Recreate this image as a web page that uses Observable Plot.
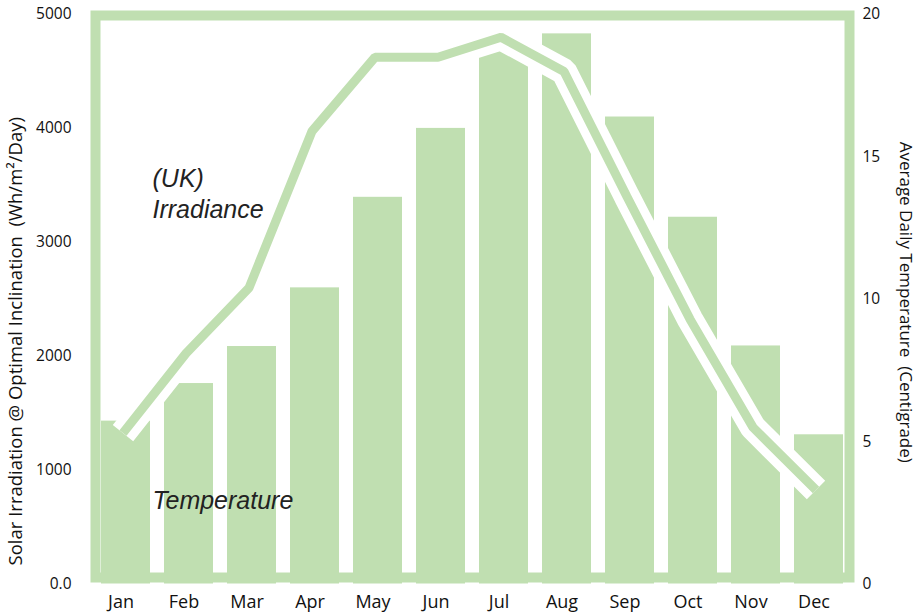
<!DOCTYPE html>
<html>
<head>
<meta charset="utf-8">
<script src="https://cdn.jsdelivr.net/npm/d3@7"></script>
<script src="https://cdn.jsdelivr.net/npm/@observablehq/plot@0.6"></script>
<style>
  html, body { margin: 0; padding: 0; background: #fff; }
  #chart { width: 917px; height: 616px; }
</style>
</head>
<body>
<div id="chart"></div>
<script>
const months = ["Jan","Feb","Mar","Apr","May","Jun","Jul","Aug","Sep","Oct","Nov","Dec"];
const irradiance = [1430, 1760, 2085, 2600, 3395, 4000, 4700, 4830, 4100, 3220, 2090, 1310];
const temperature = [5.3, 8.1, 10.4, 15.9, 18.5, 18.5, 19.2, 18.0, 13.6, 9.3, 5.5, 3.3];
const irrTicks = [0, 1000, 2000, 3000, 4000, 5000];
const tempTicks = [0, 5, 10, 15, 20];
const leftTitle = "Solar Irradiation @ Optimal Inclination  (Wh/m\u00B2/Day)";
const rightTitle = "Average Daily Temperature  (Centigrade)";
const notes = ["(UK)\nIrradiance", "Temperature"];

const tempMax = 20, irrMax = 5000, k = irrMax / tempMax;
const data = months.map((m, i) => ({month: m, irr: irradiance[i], temp: temperature[i]}));
const green = "#c0dfb1";
const font = "Open Sans";

const chart = Plot.plot({
  width: 917,
  height: 616,
  marginLeft: 90,
  marginRight: 63,
  marginTop: 14,
  marginBottom: 32.5,
  style: {fontFamily: font, background: "#fff", color: "#111"},
  x: {type: "band", domain: months, paddingInner: 0.22, paddingOuter: 0.11, axis: null},
  y: {domain: [0, irrMax], axis: null},
  marks: [
    Plot.barY(data, {x: "month", y: "irr", fill: green}),
    Plot.frame({stroke: green, strokeWidth: 10, insetTop: 1, insetBottom: 6.5, insetLeft: 5, insetRight: 5}),
    Plot.line(data, {x: "month", y: d => d.temp * k, stroke: "#fff", strokeWidth: 26, strokeLinejoin: "miter", strokeLinecap: "butt", dx: -3}),
    Plot.line(data, {x: "month", y: d => d.temp * k, stroke: green, strokeWidth: 9, strokeLinejoin: "miter", strokeLinecap: "butt", dx: -3}),
    Plot.axisX({tickSize: 0, tickPadding: 11.5, fontSize: 18, dx: -5, label: null}),
    Plot.axisY({anchor: "left", ticks: irrTicks, tickSize: 0, tickPadding: 19, fontSize: 15.5, label: null,
      tickFormat: d => d === 0 ? "0.0" : String(d)}),
    Plot.axisY({anchor: "right", ticks: tempTicks.map(t => t * k), tickSize: 0, tickPadding: 8, fontSize: 15.5, label: null,
      tickFormat: d => String(d / k)}),
    Plot.text([leftTitle], {frameAnchor: "left", textAnchor: "middle", rotate: -90, dx: -74, dy: 42, fontSize: 18.5, fill: "#111"}),
    Plot.text([rightTitle], {frameAnchor: "right", textAnchor: "middle", rotate: 90, dx: 51, dy: 3, fontSize: 17, fill: "#111"}),
    Plot.text([notes[0]], {frameAnchor: "top-left", dx: 62, dy: 203, textAnchor: "start", lineAnchor: "bottom", lineHeight: 1.24,
      fontSize: 25, fontStyle: "italic", fontFamily: "Liberation Sans", fill: "#222"}),
    Plot.text([notes[1]], {frameAnchor: "top-left", dx: 62, dy: 494, textAnchor: "start", lineAnchor: "bottom",
      fontSize: 25, fontStyle: "italic", fontFamily: "Liberation Sans", fill: "#222"})
  ]
});
document.getElementById("chart").appendChild(chart);
</script>
</body>
</html>
